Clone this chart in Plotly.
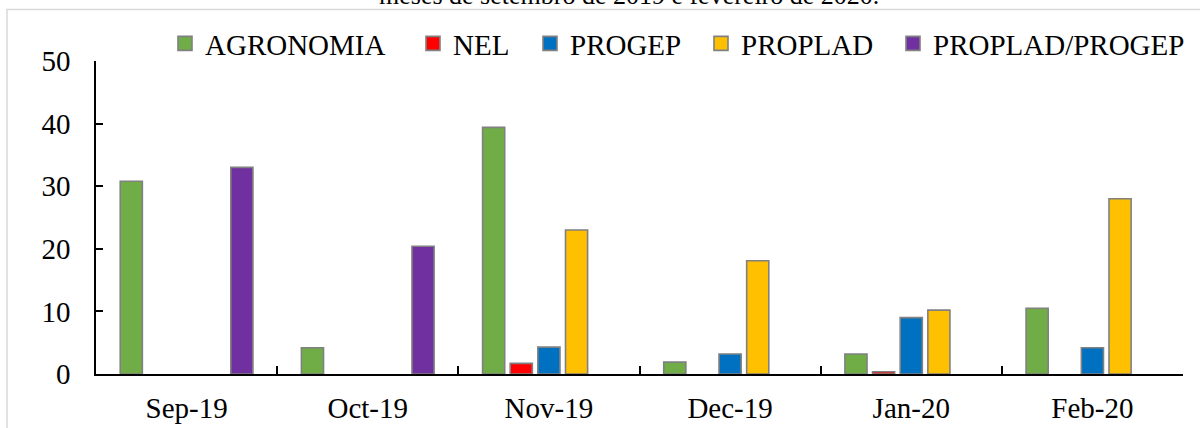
import plotly.graph_objects as go

# Monthly counts per unit
months = ["Sep-19", "Oct-19", "Nov-19", "Dec-19", "Jan-20", "Feb-20"]
agronomia = [30.8, 4.2, 39.4, 1.9, 3.2, 10.5]
nel = [None, None, 1.7, None, 0.35, None]
progep = [None, None, 4.3, 3.2, 9.0, 4.2]
proplad = [None, None, 23.0, 18.1, 10.2, 28.0]
proplad_progep = [33.0, 20.4, None, None, None, None]

series_names = ["AGRONOMIA", "NEL", "PROGEP", "PROPLAD", "PROPLAD/PROGEP"]
series_values = [agronomia, nel, progep, proplad, proplad_progep]
series_colors = ["#70AD47", "#FF0000", "#0070C0", "#FFC000", "#7030A0"]

title_text = "meses de setembro de 2019 e fevereiro de 2020."

FONT = "Liberation Serif"
FS = 29
OUTLINE = "#808080"

W, H = 1200, 428
ML, MR, MT, MB = 96, 17, 61, 54
PW = W - ML - MR
PH = H - MT - MB


def px_x(x):
    return (x - ML) / PW


def px_y(y):
    return (H - MB - y) / PH


fig = go.Figure()
legend_ids = ["legend", "legend2", "legend3", "legend4", "legend5"]
legend_left_px = [165, 413, 530, 701, 893]

for name, vals, color in zip(series_names, series_values, series_colors):
    fig.add_trace(go.Bar(
        x=months, y=vals, name=name, showlegend=False,
        marker=dict(color=color, line=dict(color=OUTLINE, width=1.6)),
    ))

# larger square swatches for the legend entries
for name, color, lid in zip(series_names, series_colors, legend_ids):
    fig.add_trace(go.Scatter(
        x=[months[0]], y=[None], name=name, mode="markers", legend=lid,
        marker=dict(symbol="square", size=14, color=color,
                    line=dict(color=OUTLINE, width=1.6)),
        hoverinfo="skip",
    ))

legend_common = dict(
    orientation="h", font=dict(family=FONT, size=FS, color="black"),
    bgcolor="rgba(0,0,0,0)", borderwidth=0, itemwidth=30,
    xanchor="left", yanchor="middle", y=px_y(43.5),
)
legend_layout = {}
for lid, lx in zip(legend_ids, legend_left_px):
    legend_layout[lid] = dict(legend_common, x=px_x(lx))

fig.update_layout(
    width=W, height=H,
    margin=dict(l=ML, r=MR, t=MT, b=MB, autoexpand=False),
    paper_bgcolor="white", plot_bgcolor="white",
    barmode="group", bargap=0.237, bargroupgap=0.2,
    font=dict(family=FONT, size=FS, color="black"),
    showlegend=True,
    xaxis=dict(
        type="category", showline=True, linecolor="black", linewidth=2,
        ticks="inside", ticklen=8, tickwidth=1.5, tickcolor="black",
        tickson="boundaries", showgrid=False, zeroline=False,
        ticklabelstandoff=7, automargin=False,
        tickfont=dict(family=FONT, size=FS, color="black"),
    ),
    yaxis=dict(
        range=[0, 50], dtick=10, showline=True, linecolor="black", linewidth=1.5,
        ticks="inside", ticklen=7, tickwidth=1.5, tickcolor="black",
        showgrid=False, zeroline=False, ticklabelstandoff=18, automargin=False,
        tickfont=dict(family=FONT, size=FS, color="black"),
    ),
    shapes=[dict(
        type="rect", xref="paper", yref="paper",
        x0=px_x(7), x1=px_x(1215), y0=px_y(445), y1=px_y(9.5),
        line=dict(color="#d9d9d9", width=1.5), fillcolor="rgba(0,0,0,0)",
        layer="below",
    )],
    annotations=[dict(
        text=title_text, xref="paper", yref="paper",
        x=px_x(629), y=px_y(12), xanchor="center", yanchor="bottom",
        showarrow=False, font=dict(family=FONT, size=26, color="black"),
    )],
    **legend_layout,
)

fig.write_html("out.html")
